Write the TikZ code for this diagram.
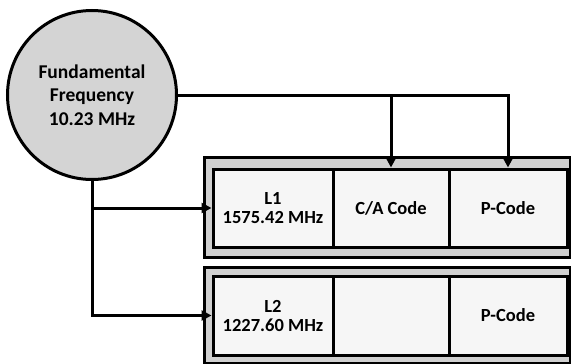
\documentclass[tikz,border=0pt]{standalone}
\usepackage{fontspec}
\setmainfont{Carlito}
\usepackage{tikz}
\usetikzlibrary{arrows.meta}
\definecolor{freqgray}{HTML}{D4D4D4}
\definecolor{framegray}{HTML}{D0D0D0}
\definecolor{cellwhite}{HTML}{F6F6F6}
\tikzset{
  freqcircle/.style={
    circle,
    draw=black,
    fill=freqgray,
    line width=3pt,
    minimum size=169pt,
    align=center,
    font=\bfseries\fontsize{19.5}{23.5}\selectfont
  },
  bandframe/.style={
    rectangle,
    draw=black,
    fill=framegray,
    line width=3pt,
    minimum width=366pt,
    inner sep=0pt
  },
  cellbox/.style={
    rectangle,
    draw=black,
    fill=cellwhite,
    line width=3pt,
    inner sep=0pt,
    align=center,
    font=\bfseries\fontsize{18.5}{19}\selectfont
  },
  arrow/.style={
    -{Triangle[length=10pt,width=10pt]},
    line width=3pt,
    draw=black
  }
}

\begin{document}
\begin{tikzpicture}[x=1pt,y=-1pt]
\useasboundingbox (0,0) rectangle (571,364);

\node[freqcircle] (freq) at (92,95) {Fundamental\\Frequency\\10.23 MHz};

% L1 band
\node[bandframe, minimum height=100pt] (band1) at (387,207) {};
\node[cellbox, minimum width=120pt, minimum height=78pt] (l1) at (273,208) {L1\\1575.42 MHz};
\node[cellbox, minimum width=116pt, minimum height=78pt] (ca) at (391,208) {C/A Code};
\node[cellbox, minimum width=118pt, minimum height=78pt] (p1) at (508,208) {P-Code};

% L2 band
\node[bandframe, minimum height=96pt] (band2) at (387,315) {};
\node[cellbox, minimum width=120pt, minimum height=79pt] (l2) at (273,315.5) {L2\\1227.60 MHz};
\node[cellbox, minimum width=116pt, minimum height=79pt] (blank) at (391,315.5) {};
\node[cellbox, minimum width=118pt, minimum height=79pt] (p2) at (508,315.5) {P-Code};

\draw[arrow] (freq) -| (ca.north);
\draw[arrow] (freq) -| (p1.north);
\draw[arrow] (freq) |- (l1.west);
\draw[arrow] (freq) |- (l2.west);
\end{tikzpicture}
\end{document}
